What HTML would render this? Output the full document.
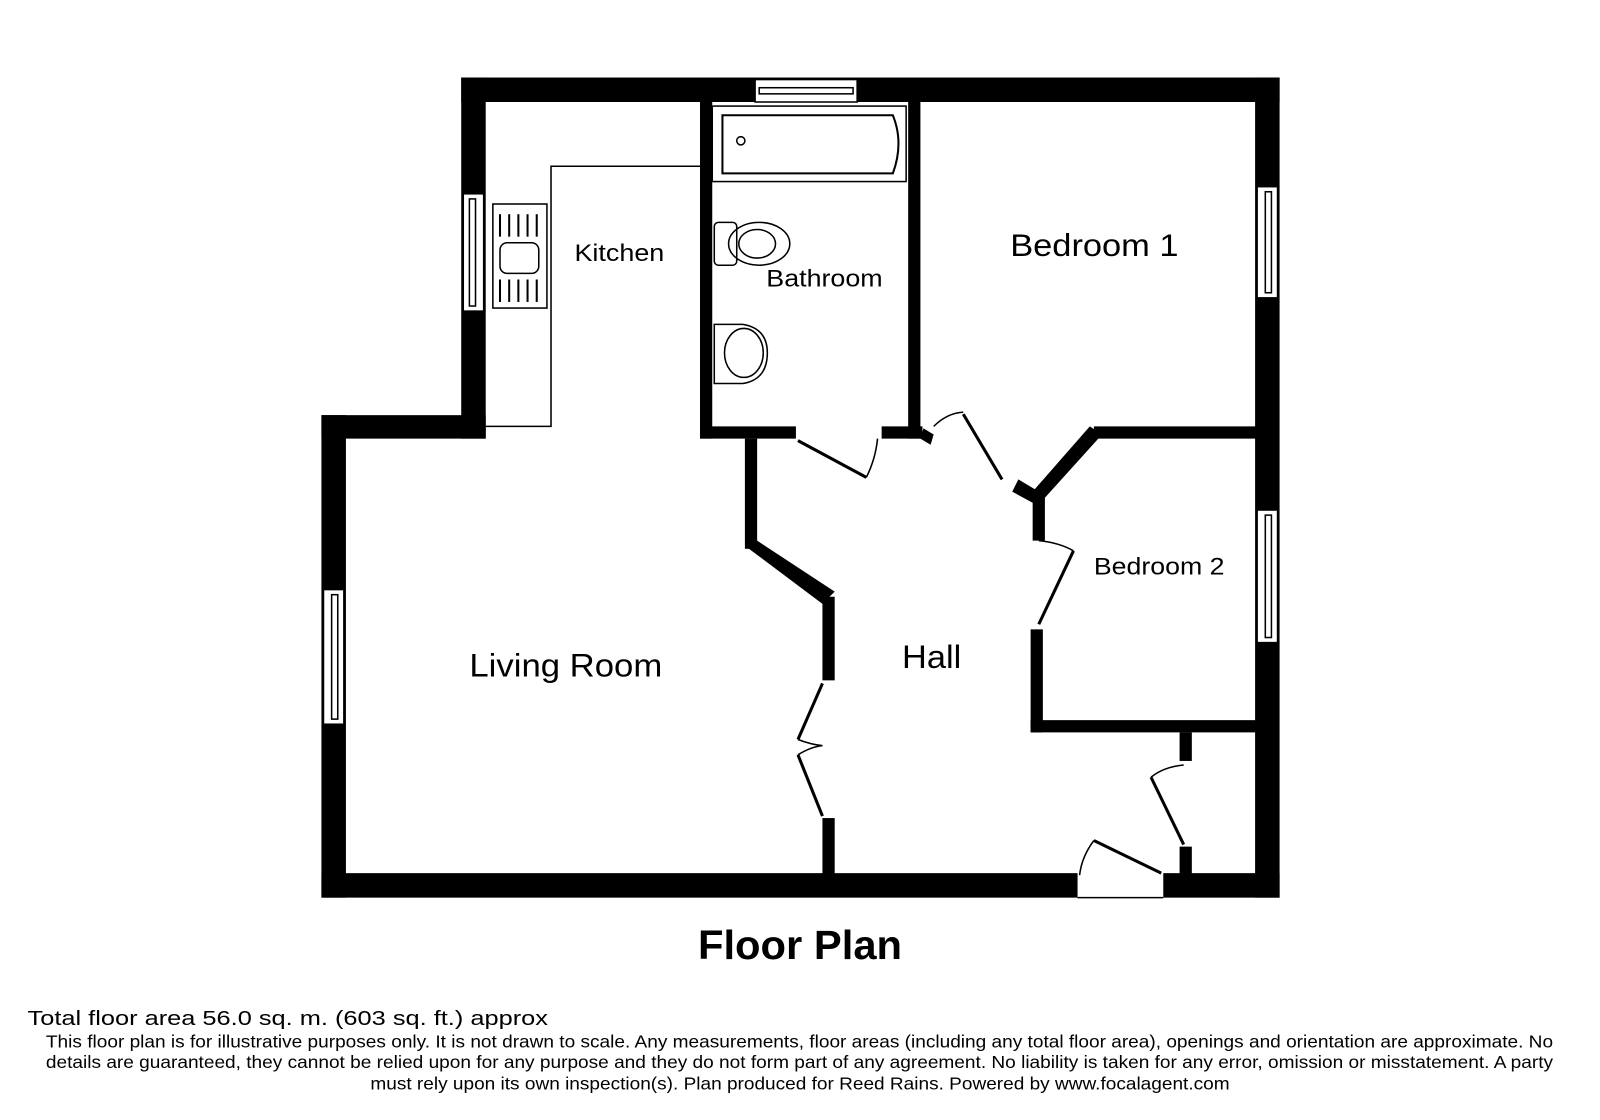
<!DOCTYPE html>
<html><head><meta charset="utf-8"><style>
html,body{margin:0;padding:0;background:#fff;}
svg{display:block}
text{font-family:"Liberation Sans",Arial,sans-serif;fill:#000}
</style></head><body>
<svg width="1600" height="1120" viewBox="0 0 1568 1098" preserveAspectRatio="none" xmlns="http://www.w3.org/2000/svg">
<g fill="#000">
<rect x="452" y="76" width="802" height="24"/>
<rect x="452" y="76" width="24" height="354"/>
<rect x="315" y="407" width="161" height="23"/>
<rect x="315" y="407" width="24" height="473"/>
<rect x="315" y="856" width="741" height="24"/>
<rect x="1140" y="856" width="114" height="24"/>
<rect x="1230" y="76" width="24" height="804"/>
<rect x="686" y="100" width="12" height="330"/>
<rect x="686" y="418" width="94" height="12"/>
<rect x="864" y="418" width="40" height="12"/>
<rect x="890" y="100" width="12" height="330"/>
<rect x="730" y="430" width="12" height="108"/>
<polygon points="730,535 742,530 818,580 806,592"/>
<rect x="806" y="585" width="12" height="82"/>
<rect x="806" y="802" width="12" height="56"/>
<rect x="1072" y="418" width="160" height="12"/>
<polygon points="1068,418 1080,426 1024,488 1012,482"/>
<rect x="1012" y="482" width="12" height="48"/>
<polygon points="998,470 1018,482 1014,494 992,482"/>
<polygon points="905,420 915,426 912,436 902,430"/>
<rect x="1010" y="617" width="12" height="101"/>
<rect x="1010" y="706" width="222" height="12"/>
<rect x="1156" y="718" width="12" height="28"/>
<rect x="1156" y="830" width="12" height="28"/>
</g>
<g fill="#fff" stroke="#000" stroke-width="1.5">
<rect x="740" y="78" width="100" height="22"/>
<rect x="744" y="86" width="92" height="6"/>
<rect x="454" y="190" width="20" height="115"/>
<rect x="460" y="195" width="6" height="105"/>
<rect x="1232" y="183" width="20" height="109"/>
<rect x="1240" y="188" width="6" height="99"/>
<rect x="1232" y="500" width="20" height="130"/>
<rect x="1240" y="505" width="6" height="120"/>
<rect x="317" y="578" width="20" height="132"/>
<rect x="325" y="583" width="6" height="122"/>
</g>
<g fill="none" stroke="#000" stroke-width="1.5">
<polyline points="476,418 540,418 540,163 686,163"/>
<rect x="483" y="200" width="53" height="102"/>
<rect x="490" y="238" width="38" height="30" rx="7"/>
<g stroke-width="2">
<line x1="490" y1="210" x2="490" y2="232"/><line x1="499" y1="210" x2="499" y2="232"/><line x1="508" y1="210" x2="508" y2="232"/><line x1="517" y1="210" x2="517" y2="232"/><line x1="526" y1="210" x2="526" y2="232"/>
<line x1="490" y1="274" x2="490" y2="296"/><line x1="499" y1="274" x2="499" y2="296"/><line x1="508" y1="274" x2="508" y2="296"/><line x1="517" y1="274" x2="517" y2="296"/><line x1="526" y1="274" x2="526" y2="296"/>
</g>
<rect x="698" y="104" width="190" height="74"/>
<path d="M708,113 H875 Q886,140 875,170 H708 Z" stroke-width="2"/>
<circle cx="726" cy="138" r="4"/>
<rect x="700" y="218" width="22" height="42" rx="4"/>
<ellipse cx="744" cy="239" rx="30" ry="21"/>
<ellipse cx="742" cy="239" rx="18" ry="14"/>
<path d="M700,318 H728 Q752,322 752,346 Q752,372 728,376 H700 Z"/>
<ellipse cx="729" cy="346" rx="19" ry="24"/>
<g stroke-width="3">
<line x1="782" y1="432" x2="849" y2="468"/>
<line x1="944" y1="406" x2="982" y2="470"/>
<line x1="1052" y1="540" x2="1018" y2="612"/>
<line x1="806" y1="670" x2="782" y2="725"/>
<line x1="782" y1="740" x2="806" y2="800"/>
<line x1="1128" y1="762" x2="1160" y2="828"/>
<line x1="1072" y1="824" x2="1138" y2="856"/>
</g>
<path d="M849,468 Q858,450 860,430"/>
<path d="M915,418 Q928,405 944,404"/>
<path d="M1018,530 Q1038,532 1052,540"/>
<path d="M782,725 Q795,730 806,731 Q795,732 782,740"/>
<path d="M1128,762 Q1140,752 1160,750"/>
<path d="M1072,824 Q1060,840 1058,858"/>
<path d="M1056,880 H1140"/>
</g>
<text x="563" y="256" font-size="24" textLength="88" lengthAdjust="spacingAndGlyphs">Kitchen</text>
<text x="751" y="281" font-size="24" textLength="114" lengthAdjust="spacingAndGlyphs">Bathroom</text>
<text x="990" y="251" font-size="31" textLength="165" lengthAdjust="spacingAndGlyphs">Bedroom 1</text>
<text x="1072" y="563" font-size="24" textLength="128" lengthAdjust="spacingAndGlyphs">Bedroom 2</text>
<text x="460" y="663" font-size="32" textLength="189" lengthAdjust="spacingAndGlyphs">Living Room</text>
<text x="884" y="655" font-size="32" textLength="58" lengthAdjust="spacingAndGlyphs">Hall</text>
<text x="684" y="940" font-size="40" font-weight="bold" textLength="200" lengthAdjust="spacingAndGlyphs">Floor Plan</text>
<text x="27" y="1005" font-size="20" textLength="510" lengthAdjust="spacingAndGlyphs">Total floor area 56.0 sq. m. (603 sq. ft.) approx</text>
<g font-size="17">
<text x="45" y="1027" textLength="1477" lengthAdjust="spacingAndGlyphs">This floor plan is for illustrative purposes only. It is not drawn to scale. Any measurements, floor areas (including any total floor area), openings and orientation are approximate. No</text>
<text x="45" y="1047" textLength="1477" lengthAdjust="spacingAndGlyphs">details are guaranteed, they cannot be relied upon for any purpose and they do not form part of any agreement. No liability is taken for any error, omission or misstatement. A party</text>
<text x="363" y="1068" textLength="842" lengthAdjust="spacingAndGlyphs">must rely upon its own inspection(s). Plan produced for Reed Rains. Powered by www.focalagent.com</text>
</g>
</svg>
</body></html>
